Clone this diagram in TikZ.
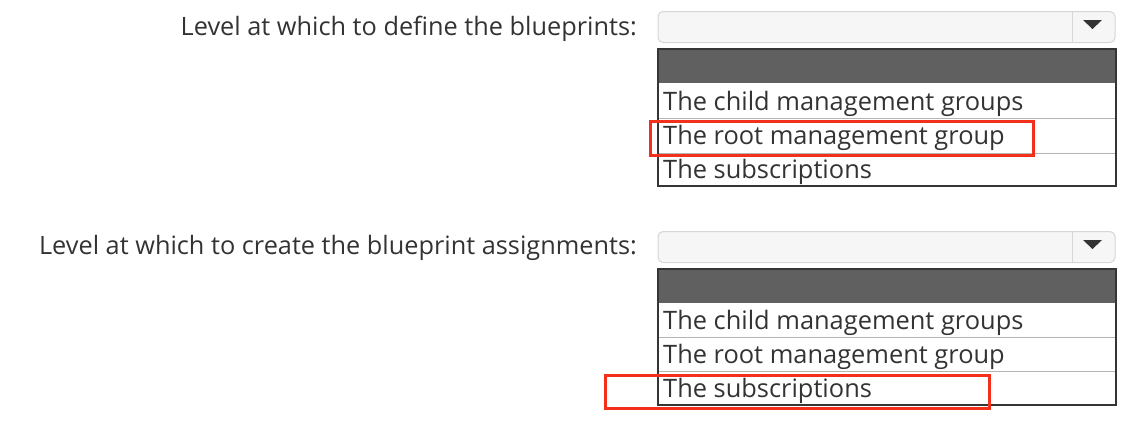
\documentclass[tikz,border=0pt]{standalone}
\usepackage{fontspec}
\setmainfont{Open Sans}
\usetikzlibrary{positioning,calc}
\definecolor{txtgray}{HTML}{333333}
\definecolor{boxline}{HTML}{D6D6D6}
\definecolor{boxfill}{HTML}{F6F6F6}
\definecolor{listline}{HTML}{353535}
\definecolor{headfill}{HTML}{606060}
\definecolor{sepgray}{HTML}{B4B4B4}
\definecolor{markred}{HTML}{F2301C}
\tikzset{combo/.style = {draw=boxline, fill=boxfill, rounded corners=5pt, line width=1pt,
                         minimum width=457pt, minimum height=31pt, inner sep=0, anchor=north west}}
\tikzset{listbox/.style = {draw=listline, line width=2pt, minimum width=458pt,
                           inner sep=0, anchor=north west}}
\tikzset{header/.style = {fill=headfill, minimum width=458pt, minimum height=35pt,
                          inner sep=0, anchor=north west}}
\tikzset{question/.style = {anchor=base east, inner sep=0, text=txtgray, font=\fontsize{25.3}{30}\selectfont}}
\tikzset{opt/.style = {anchor=base west, inner sep=0, text=txtgray, font=\fontsize{25.4}{30}\selectfont}}
\tikzset{sep/.style = {draw=sepgray, line width=1pt}}
\tikzset{answer/.style = {draw=markred, line width=3pt}}
\tikzset{arrowtip/.style = {fill=txtgray}}

\begin{document}
\begin{tikzpicture}[x=1pt, y=-1pt]
    \useasboundingbox (0, 0) rectangle (1139, 432);
    % first question
    \node [question] (deflabel) at (637, 35) {Level at which to define the blueprints:};
    \node [combo] (defcombo) at (657.5, 11) {};
    \draw [boxline] (1072, 11) -- (1072, 42);
    \fill [arrowtip] (1083, 20) -- (1102, 20) -- (1092.5, 29) -- cycle;
    \node [header] (defhead) at (657, 48) {};
    \draw [sep] (657, 118) -- (1115, 118);
    \draw [sep] (657, 153) -- (1115, 153);
    \node [listbox, minimum height=137pt] (deflist) at (657, 48) {};
    \foreach \txt/\y in {The child management groups/110,
                         The root management group/144,
                         The subscriptions/178}
      \node [opt] at (663, \y) {\txt};
    \draw [answer] (650, 121) rectangle (1033, 155);
    % second question
    \node [question] (asglabel) at (637, 254) {Level at which to create the blueprint assignments:};
    \node [combo] (asgcombo) at (657.5, 231) {};
    \draw [boxline] (1072, 231) -- (1072, 262);
    \fill [arrowtip] (1083, 240) -- (1102, 240) -- (1092.5, 249) -- cycle;
    \node [header] (asghead) at (657, 268) {};
    \draw [sep] (657, 337) -- (1115, 337);
    \draw [sep] (657, 371) -- (1115, 371);
    \node [listbox, minimum height=136pt] (asglist) at (657, 268) {};
    \foreach \txt/\y in {The child management groups/329,
                         The root management group/363,
                         The subscriptions/397}
      \node [opt] at (663, \y) {\txt};
    \draw [answer] (605, 375) rectangle (989, 408);
  \end{tikzpicture}
\end{document}
